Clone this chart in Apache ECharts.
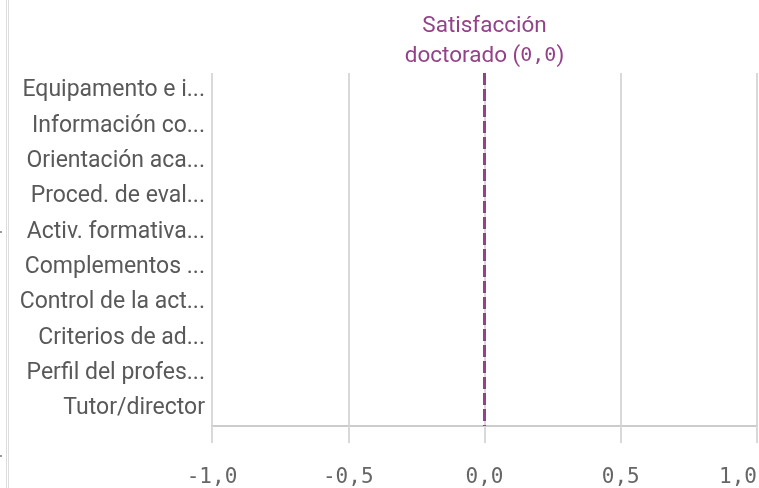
<!DOCTYPE html>
<html><head><meta charset="utf-8">
<script src="https://cdn.jsdelivr.net/npm/echarts@6/dist/echarts.min.js"></script>
<style>html,body{margin:0;padding:0;background:#fff}#c{width:759px;height:488px}</style>
</head><body><div id="c"></div>
<script>
const categories = ["Equipamento e i...","Información co...","Orientación aca...","Proced. de eval...","Activ. formativa...","Complementos ...","Control de la act...","Criterios de ad...","Perfil del profes...","Tutor/director"];
const values = [0,0,0,0,0,0,0,0,0,0];
const refValue = 0;
const refName = "Satisfacción doctorado";
const xMin = -1, xMax = 1, xStep = 0.5;

const fmt = v => v.toFixed(1).replace('.', ',');
const chart = echarts.init(document.getElementById('c'), null, {renderer:'canvas'});
chart.setOption({
  animation:false,
  grid:{left:212,right:2,top:73,bottom:62,containLabel:false,outerBoundsMode:'none'},
  xAxis:{type:'value',min:xMin,max:xMax,interval:xStep,
    axisLine:{show:true,lineStyle:{color:'#cccccc',width:2}},
    axisTick:{show:true,length:17,lineStyle:{color:'#d9d9d9',width:2}},
    splitLine:{show:true,lineStyle:{color:'#d9d9d9',width:2}},
    axisLabel:{formatter:fmt,fontFamily:'DejaVu Sans Mono',fontSize:21,color:'#666666',margin:41,alignMaxLabel:'right'}},
  yAxis:{type:'category',data:categories,inverse:true,
    axisLine:{show:false},axisTick:{show:false},splitLine:{show:false},
    axisLabel:{fontFamily:'Roboto',fontSize:23,color:'#595959',margin:7}},
  series:[{type:'bar',data:values,itemStyle:{color:'#8fc79a'},barWidth:'60%',
    markLine:{silent:true,symbol:['none','none'],
      lineStyle:{color:'#93428a',type:[12,4],width:3},
      label:{show:true,position:'start',distance:2,
        formatter:()=>refName.replace(' doctorado','\ndoctorado')+' ({m|'+fmt(refValue)+'})',
        fontFamily:'Roboto',fontSize:22.5,lineHeight:30,color:'#93428a',
        rich:{m:{fontFamily:'DejaVu Sans Mono',fontSize:20,color:'#93428a',lineHeight:30}}},
      data:[{xAxis:refValue}]}}],
  graphic:[
    {type:'line',shape:{x1:6.5,y1:0,x2:6.5,y2:488},style:{stroke:'#dddddd',lineWidth:1}},
    {type:'line',shape:{x1:8.5,y1:0,x2:8.5,y2:488},style:{stroke:'#dddddd',lineWidth:1}},
    {type:'rect',shape:{x:0,y:231,width:2,height:2},style:{fill:'#999999'}},
    {type:'rect',shape:{x:0,y:455,width:2,height:2},style:{fill:'#999999'}}
  ]
});
</script></body></html>
